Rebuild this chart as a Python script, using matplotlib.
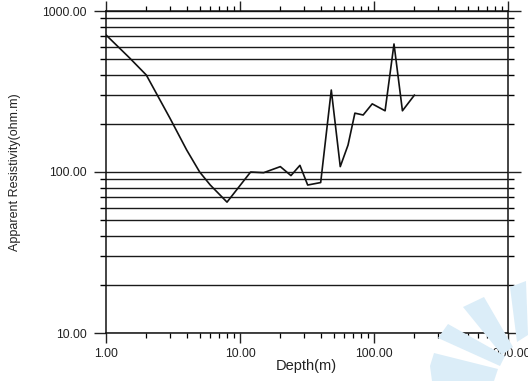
import matplotlib
matplotlib.use("Agg")
import matplotlib.pyplot as plt
from matplotlib.ticker import LogLocator, FormatStrFormatter, NullFormatter
from matplotlib.patches import Polygon

plt.rcParams['font.family'] = ['Liberation Sans', 'DejaVu Sans']

# Sounding curve: electrode half-spacing (m) vs apparent resistivity (ohm.m)
depth = [1, 1.5, 2, 3, 4, 5, 6, 8, 12, 15, 20, 24, 28, 32, 40, 48, 56,
         64, 72, 83, 97, 121, 141, 163, 200]
resistivity = [710, 511, 400, 216, 137, 100, 83, 65, 100, 99, 108, 95,
               110, 83, 86, 323, 108, 147, 232, 226, 265, 240, 624, 240, 300]

x_ticks = [1, 10, 100, 1000]
y_ticks = [10, 100, 1000]
x_label = "Depth(m)"
y_label = "Apparent Resistivity(ohm.m)"

W, H = 528, 381
fig = plt.figure(figsize=(W / 100, H / 100), dpi=100)

# faint fan-shaped emblem in the lower right corner (pixel coords, top-left origin)
fan_color = '#dbedf8'
petals = [
    [(510, 287), (526, 281), (528, 335), (517, 342)],
    [(463, 307), (484, 297), (513, 347), (502, 355)],
    [(438, 338), (448, 324), (505, 356), (500, 366)],
    [(430, 366), (434, 353), (498, 369), (494, 381), (432, 381)],
]
for p in petals:
    fig.patches.append(Polygon([(x / W, 1 - y / H) for x, y in p],
                               closed=True, transform=fig.transFigure,
                               facecolor=fan_color, edgecolor='none', zorder=0))

ax = fig.add_axes([106 / W, 1 - 333 / H, 402 / W, 322 / H])
ax.patch.set_alpha(0)
ax.set_xscale('log')
ax.set_yscale('log')
ax.set_xlim(1, 1000)
ax.set_ylim(10, 1000)

ax.plot(depth, resistivity, color='#111111', lw=1.2, zorder=3)

ax.set_xticks(x_ticks)
ax.set_yticks(y_ticks)
ax.xaxis.set_major_formatter(FormatStrFormatter('%.2f'))
ax.yaxis.set_major_formatter(FormatStrFormatter('%.2f'))
ax.xaxis.set_minor_locator(LogLocator(base=10, subs=range(2, 10)))
ax.yaxis.set_minor_locator(LogLocator(base=10, subs=range(2, 10)))
ax.xaxis.set_minor_formatter(NullFormatter())
ax.yaxis.set_minor_formatter(NullFormatter())

# horizontal rules at every decade and sub-decade value
ax.yaxis.grid(True, which='both', color='#1a1a1a', lw=1.0)
ax.xaxis.grid(False, which='both')

ax.tick_params(axis='x', which='major', direction='out', length=7, width=1,
               top=True, bottom=True, labelsize=8.7, pad=4, colors='#222222')
ax.tick_params(axis='x', which='minor', direction='out', length=3.5, width=0.9,
               top=True, bottom=True)
ax.tick_params(axis='y', which='major', direction='out', length=9, width=1,
               left=True, right=True, labelsize=8.7, pad=5, colors='#222222')
ax.tick_params(axis='y', which='minor', direction='out', length=4.5, width=1,
               left=True, right=True)

for s in ax.spines.values():
    s.set_color('#111111')
    s.set_linewidth(1.1)

ax.set_xlabel(x_label, fontsize=10.5, color='#222222')
ax.set_ylabel(y_label, fontsize=9, color='#222222')
ax.xaxis.set_label_coords(0.4975, (333 - 359) / 322)
ax.yaxis.set_label_coords((21 - 106) / 402, 0.5)

fig.savefig('out.png', dpi=100)
